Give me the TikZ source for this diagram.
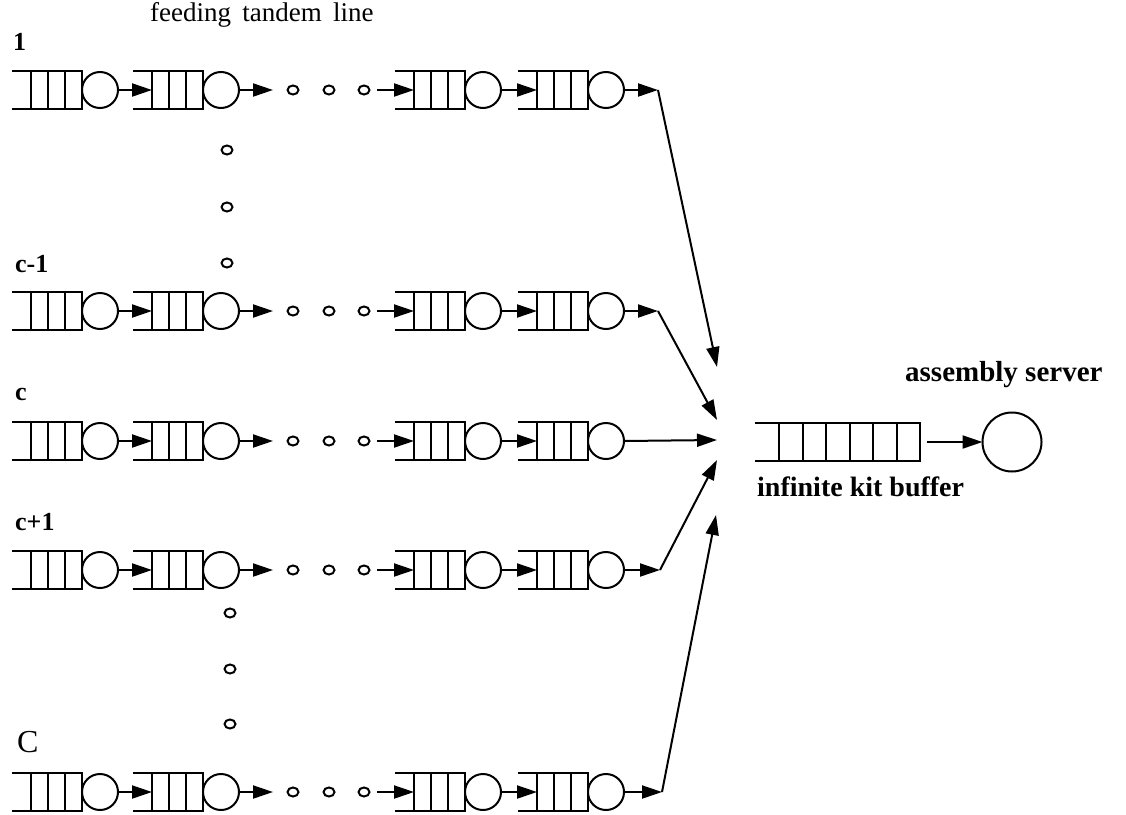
\documentclass[tikz,border=0pt]{standalone}
\usepackage{fontspec}
\setmainfont{Liberation Serif}
\usetikzlibrary{arrows.meta,calc,shapes.geometric}

\tikzset{
  qline/.style={line width=2pt},
  server/.style={circle, draw, line width=2pt, minimum size=36pt, inner sep=0pt, outer sep=0pt},
  bigserver/.style={server, minimum size=59pt},
  qnode/.style={rectangle, draw=none, inner sep=0pt, outer sep=0pt, minimum height=38pt},
  flow/.style={line width=2pt, -{Triangle[length=20pt,width=13pt]}},
  dotmark/.style={ellipse, draw, line width=2pt, minimum width=11pt, minimum height=9pt, inner sep=0pt},
  lbl/.style={anchor=base west, inner sep=0pt, font=\fontsize{26}{30}\selectfont\bfseries},
  caption/.style={anchor=base west, inner sep=0pt, font=\fontsize{28}{32}\selectfont\bfseries},
}

% queue open on the left: name, left x, centre y, cells, cell width, open part
\newcommand\queuebox[6]{%
  \node[qnode, minimum width={(#4*#5+#6)*1pt}, anchor=west] (#1) at (#2,#3) {};
  \draw[qline] (#1.north west) -- (#1.north east) -- (#1.south east) -- (#1.south west);
  \foreach \qcell in {1,...,#4}
    \draw[qline] ($(#1.north east)+(-\qcell*#5,0)$) -- ($(#1.south east)+(-\qcell*#5,0)$);
  \coordinate (#1-in) at ($(#1.east)+(-#4*#5,0)$);
}

\begin{document}
\begin{tikzpicture}[x=1pt,y=-1pt]
\useasboundingbox (0,0) rectangle (1126,814);

% the feeding tandem lines
\foreach \r/\y in {1/90,2/311,3/441,4/570,5/792}{
  \foreach \k/\x in {1/12,2/133,3/395,4/518}{
    \queuebox{q\r\k}{\x}{\y}{3}{17}{19}
    \node[server, anchor=west] (s\r\k) at (q\r\k.east) {};
  }
  \draw[flow] (s\r1.east) -- (q\r2-in);
  \draw[flow] (s\r3.east) -- (q\r4-in);
  \coordinate (g\r) at (273,\y);
  \draw[flow] (s\r2.east) -- (g\r);
  \foreach \d/\x in {a/293,b/329,c/364} \node[dotmark] (o\r\d) at (\x,\y) {};
  \coordinate (h\r) at (377,\y);
  \draw[flow] (h\r) -- (q\r3-in);
}

% vertical ellipses between lines
\foreach \n/\x/\y in {1/227/150,2/227/207,3/227/263,4/230/613,5/230/669,6/230/724}
  \node[dotmark] (v\n) at (\x,\y) {};

% merging into the kit buffer
\coordinate (t1) at (658,90);
\coordinate (t2) at (658,311);
\coordinate (t4) at (660,570);
\coordinate (t5) at (662,792);
\coordinate (m1) at (717,367);
\coordinate (m2) at (717,420);
\coordinate (m3) at (717,440);
\coordinate (m4) at (717,460);
\coordinate (m5) at (716,515);
\foreach \r in {1,2,4,5}{
  \draw[flow] (s\r4.east) -- (t\r);
  \draw[flow] (t\r) -- (m\r);
}
\draw[flow] (s34.east) -- (m3);

% assembly station
\queuebox{kit}{755}{442}{6}{23.5}{24}
\node[bigserver] (asm) at (1012,442) {};
\draw[flow, shorten <=7pt] (kit.east) -- (asm.west);

% labels
\node[caption, font=\fontsize{27}{32}\selectfont] (title) at (150,21) {feeding\,\ tandem\,\ line};
\node[lbl] (l1) at (13,50) {1};
\node[lbl] (l2) at (15,272) {c-1};
\node[lbl] (l3) at (15,400) {c};
\node[lbl] (l4) at (15,530) {c+1};
\node[lbl, font=\fontsize{32}{36}\selectfont] (l5) at (17,752) {C};
\node[caption, font=\fontsize{29}{34}\selectfont\bfseries] (srv) at (905,381) {assembly server};
\node[caption] (buf) at (757,496) {infinite kit buffer};
\end{tikzpicture}
\end{document}
